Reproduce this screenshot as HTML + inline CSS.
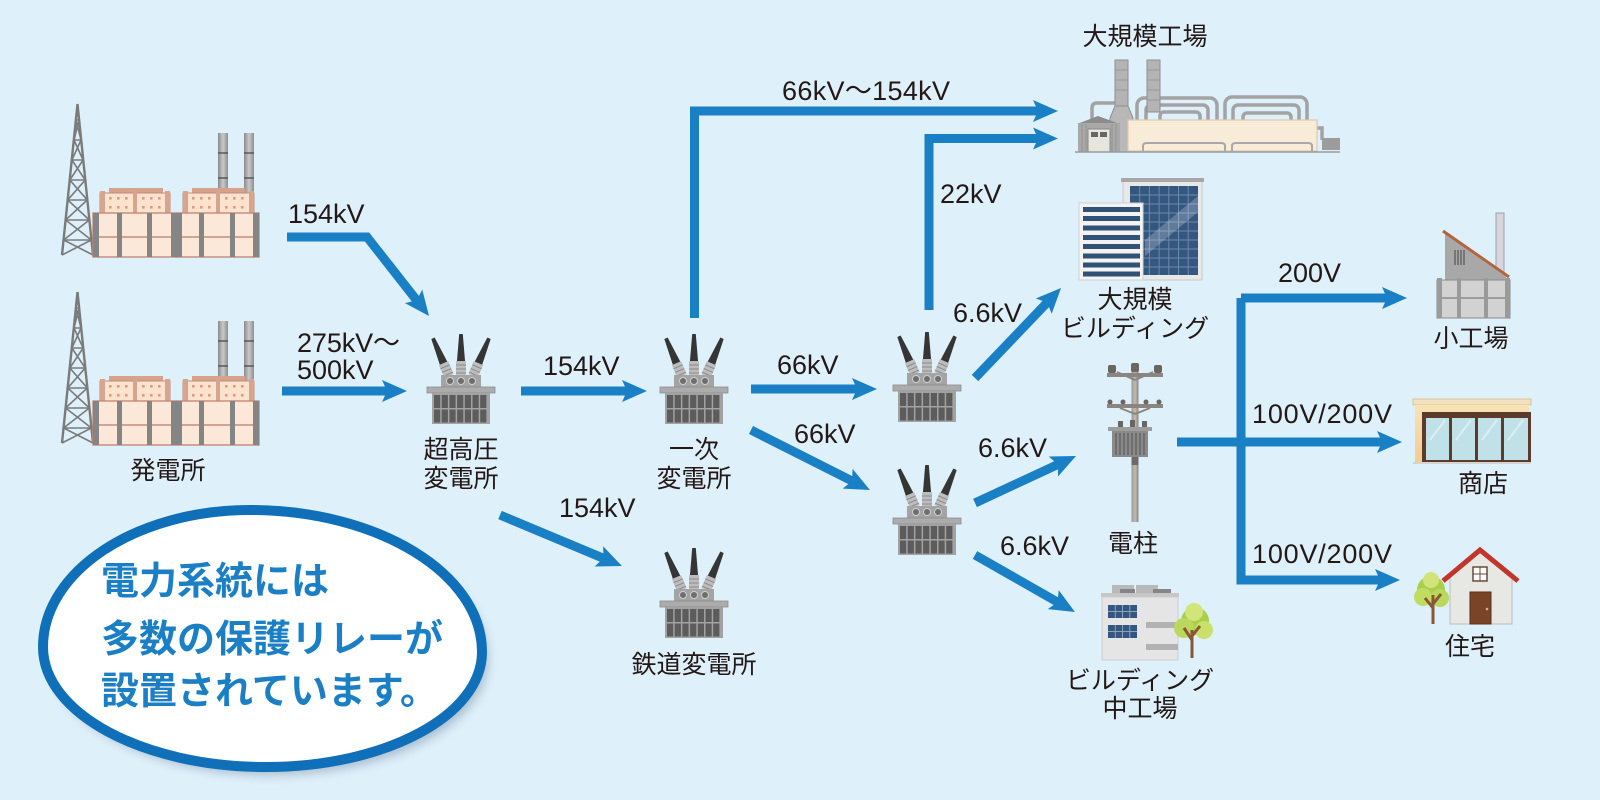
<!DOCTYPE html>
<html><head><meta charset="utf-8"><style>
html,body{margin:0;padding:0;background:#def0fa;}
svg{display:block;}
.kv{font-family:"Liberation Sans","Noto Sans CJK JP",sans-serif;font-size:27px;fill:#231815;}
.jp{font-family:"Liberation Sans","Noto Sans CJK JP",sans-serif;font-size:25px;fill:#231815;text-anchor:middle;}
.big{font-family:"Liberation Sans","Noto Sans CJK JP",sans-serif;font-size:38px;font-weight:700;fill:#1b7fc5;}
.ar{fill:none;stroke:#1a80c6;stroke-width:9;stroke-linejoin:miter;marker-end:url(#ah);}
</style></head><body>
<svg width="1600" height="800" viewBox="0 0 1600 800" xmlns="http://www.w3.org/2000/svg">
<defs>
<marker id="ah" markerUnits="userSpaceOnUse" markerWidth="26" markerHeight="24" viewBox="0 0 26 24" refX="5" refY="12" orient="auto"><path d="M0,1 L25,12 L0,23 L5,12 z" fill="#1a80c6"/></marker>
<linearGradient id="stk" x1="0" x2="1"><stop offset="0" stop-color="#8a8a8a"/><stop offset="0.5" stop-color="#c9c9c9"/><stop offset="1" stop-color="#8f8f8f"/></linearGradient>
<linearGradient id="pole" x1="0" x2="1"><stop offset="0" stop-color="#9a948e"/><stop offset="0.5" stop-color="#c2bcb6"/><stop offset="1" stop-color="#8c8680"/></linearGradient>
<linearGradient id="shop" x1="0" y1="0" x2="0" y2="1"><stop offset="0" stop-color="#f7e3b8"/><stop offset="1" stop-color="#f2cd8e"/></linearGradient>
<filter id="blur" x="-20%" y="-20%" width="140%" height="140%"><feGaussianBlur stdDeviation="5"/></filter>
<g id="bush">
  <path d="M-4.2,-12 L-1.8,-41 L1.8,-41 L4.2,-12 z" fill="#353535"/>
  <rect x="-5" y="-14" width="10" height="14" fill="#bdbdbd"/>
  <path d="M-5,-10 H5 M-5,-6 H5 M-5,-2 H5" stroke="#8a8a8a" stroke-width="1"/>
</g>
<g id="tr">
  <use href="#bush" transform="translate(-12,-11) rotate(-23)"/>
  <use href="#bush" transform="translate(12,-11) rotate(23)"/>
  <use href="#bush" transform="translate(0,-12)"/>
  <rect x="-20" y="-12" width="40" height="12" fill="#a4a4a4"/>
  <circle cx="-11" cy="-6" r="3.5" fill="#6e6e6e" stroke="#cfcfcf" stroke-width="1"/>
  <circle cx="0" cy="-6" r="3.5" fill="#6e6e6e" stroke="#cfcfcf" stroke-width="1"/>
  <circle cx="11" cy="-6" r="3.5" fill="#6e6e6e" stroke="#cfcfcf" stroke-width="1"/>
  <rect x="-34" y="0" width="68" height="6" fill="#acacac" stroke="#8c8c8c" stroke-width="0.8"/>
  <rect x="-29" y="6" width="58" height="31" fill="#a2a2a2"/>
  <g fill="#5c5c5c">
    <rect x="-27" y="8" width="6.2" height="13"/><rect x="-19.3" y="8" width="6.2" height="13"/><rect x="-11.6" y="8" width="6.2" height="13"/><rect x="-3.9" y="8" width="6.2" height="13"/><rect x="3.8" y="8" width="6.2" height="13"/><rect x="11.5" y="8" width="6.2" height="13"/><rect x="19.2" y="8" width="6.2" height="13"/>
    <rect x="-27" y="22.5" width="6.2" height="13"/><rect x="-19.3" y="22.5" width="6.2" height="13"/><rect x="-11.6" y="22.5" width="6.2" height="13"/><rect x="-3.9" y="22.5" width="6.2" height="13"/><rect x="3.8" y="22.5" width="6.2" height="13"/><rect x="11.5" y="22.5" width="6.2" height="13"/><rect x="19.2" y="22.5" width="6.2" height="13"/>
  </g>
</g>
<g id="plant">
  <g stroke="#7a7a7a" stroke-width="1.6" fill="none">
    <path d="M77.5,104 L62,255 M77.5,104 L93,255" stroke-width="2.4"/>
    <path d="M76,120 L81,140 L71.9,160 L85.2,180 L67.7,200 L89.4,220 L63.6,240 L93,255"/>
    <path d="M79,120 L74,140 L83.1,160 L69.8,180 L87.3,200 L65.6,220 L91.4,240 L62,255"/>
    <path d="M76,120 H79 M74,140 H81 M71.9,160 H83.1 M69.8,180 H85.2 M67.7,200 H87.3 M65.6,220 H89.4 M63.6,240 H91.4"/>
  </g>
  <rect x="218" y="133" width="10" height="62" fill="url(#stk)"/>
  <rect x="244" y="133" width="10" height="62" fill="url(#stk)"/>
  <path d="M218,153 H228 M218,178 H228 M244,153 H254 M244,178 H254" stroke="#4a4a4a" stroke-width="1.2"/>
  <rect x="109" y="188" width="54" height="6" fill="#d6a28c"/>
  <rect x="192" y="188" width="53" height="6" fill="#d6a28c"/>
  <rect x="100" y="193" width="70" height="21" fill="#fbe3cf" stroke="#c58b78" stroke-width="1"/>
  <rect x="183" y="193" width="71" height="21" fill="#fbe3cf" stroke="#c58b78" stroke-width="1"/>
  <g fill="#d7a48f"><rect x="100" y="191" width="5" height="23"/><rect x="165" y="191" width="5" height="23"/><rect x="133" y="191" width="4" height="23"/><rect x="183" y="191" width="5" height="23"/><rect x="249" y="191" width="5" height="23"/><rect x="216" y="191" width="4" height="23"/></g>
  <g fill="#e49a7a">
    <rect x="109" y="197" width="2.6" height="2.6"/><rect x="117" y="197" width="2.6" height="2.6"/><rect x="125" y="197" width="2.6" height="2.6"/><rect x="142" y="197" width="2.6" height="2.6"/><rect x="150" y="197" width="2.6" height="2.6"/><rect x="158" y="197" width="2.6" height="2.6"/>
    <rect x="109" y="206" width="2.6" height="2.6"/><rect x="117" y="206" width="2.6" height="2.6"/><rect x="125" y="206" width="2.6" height="2.6"/><rect x="142" y="206" width="2.6" height="2.6"/><rect x="150" y="206" width="2.6" height="2.6"/><rect x="158" y="206" width="2.6" height="2.6"/>
    <rect x="192" y="197" width="2.6" height="2.6"/><rect x="200" y="197" width="2.6" height="2.6"/><rect x="208" y="197" width="2.6" height="2.6"/><rect x="225" y="197" width="2.6" height="2.6"/><rect x="233" y="197" width="2.6" height="2.6"/><rect x="241" y="197" width="2.6" height="2.6"/>
    <rect x="192" y="206" width="2.6" height="2.6"/><rect x="200" y="206" width="2.6" height="2.6"/><rect x="208" y="206" width="2.6" height="2.6"/><rect x="225" y="206" width="2.6" height="2.6"/><rect x="233" y="206" width="2.6" height="2.6"/><rect x="241" y="206" width="2.6" height="2.6"/>
  </g>
  <rect x="93" y="213" width="84" height="44" fill="#fce8d8" stroke="#c58b78" stroke-width="1.4"/>
  <rect x="177" y="213" width="82" height="44" fill="#fce8d8" stroke="#c58b78" stroke-width="1.4"/>
  <path d="M93,237 H259" stroke="#c58b78" stroke-width="1.5"/>
  <g fill="#858585"><rect x="93" y="213" width="6" height="44"/><rect x="117" y="213" width="5" height="44"/><rect x="147" y="213" width="5" height="44"/><rect x="171" y="213" width="6" height="44"/><rect x="177" y="213" width="5" height="44"/><rect x="199" y="213" width="5" height="44"/><rect x="230" y="213" width="5" height="44"/><rect x="253" y="213" width="6" height="44"/></g>
</g>
</defs>

<rect width="1600" height="800" fill="#def0fa"/>

<!-- power plants -->
<use href="#plant"/>
<use href="#plant" y="188"/>

<!-- transformers -->
<use href="#tr" x="461" y="387"/>
<use href="#tr" x="694" y="387"/>
<use href="#tr" x="927" y="385"/>
<use href="#tr" x="927" y="518"/>
<use href="#tr" x="694" y="601"/>

<!-- arrows -->
<path class="ar" d="M287,237 H367 L416.7,300.3"/>
<path class="ar" d="M282,391 H387"/>
<path class="ar" d="M521,391 H627"/>
<path class="ar" d="M694.5,318 V111 H1038"/>
<path class="ar" d="M929,310 V138.5 H1038"/>
<path class="ar" d="M500,515 L603.5,558.3"/>
<path class="ar" d="M751,389 H857"/>
<path class="ar" d="M751,430 L852.1,481"/>
<path class="ar" d="M975,378 L1047.2,302.5"/>
<path class="ar" d="M975,503 L1057.9,464.4"/>
<path class="ar" d="M975,555 L1057.6,602.1"/>
<path class="ar" d="M1177,442 H1382"/>
<path class="ar" d="M1241,298 V580 H1380"/>
<path class="ar" d="M1241,298 H1387"/>

<!-- big factory -->
<g fill="none" stroke="#a3a3a3" stroke-width="3.5">
  <rect x="1137" y="98" width="80" height="34" rx="7"/>
  <rect x="1146" y="105" width="62" height="28" rx="5"/>
  <rect x="1225" y="97" width="82" height="35" rx="7"/>
  <rect x="1233" y="105" width="66" height="28" rx="5"/>
  <rect x="1160" y="112" width="40" height="20" rx="4"/>
  <rect x="1243" y="113" width="48" height="20" rx="4"/>
  <path d="M1092,125 V108 Q1092,103 1097,103 H1115"/>
  <path d="M1317,128 H1322 V140"/>
</g>
<rect x="1115" y="60" width="13" height="46" fill="#b4b4b4" stroke="#8e8e8e" stroke-width="1"/>
<path d="M1115,106 L1110,118 V152 H1133 V118 L1128,106 z" fill="#b8b8b8" stroke="#8e8e8e" stroke-width="1"/>
<rect x="1147" y="60" width="13" height="52" fill="#b4b4b4" stroke="#8e8e8e" stroke-width="1"/>
<path d="M1115,70 H1128 M1115,80 H1128 M1115,90 H1128 M1147,70 H1160 M1147,80 H1160 M1147,90 H1160 M1147,100 H1160" stroke="#999" stroke-width="1"/>
<rect x="1128" y="120" width="189" height="31" fill="#f8ebd8" stroke="#dccbb2" stroke-width="1.2"/>
<path d="M1143,151 V146 Q1143,143 1147,143 H1221 Q1225,143 1225,146 V151 M1232,151 V146 Q1232,143 1236,143 H1308 Q1312,143 1312,146 V151" fill="none" stroke="#a8a8a8" stroke-width="2"/>
<rect x="1322" y="138" width="18" height="12" fill="#9c9c9c"/>
<path d="M1077,124 L1098,116 L1120,124 z" fill="#8c8c8c"/>
<rect x="1078" y="123" width="42" height="29" fill="#a9a9a9"/>
<path d="M1082,124 V152 M1086,124 V152 M1112,124 V152 M1116,124 V152" stroke="#939393" stroke-width="1"/>
<rect x="1088" y="129" width="22" height="23" fill="#e6e6de" stroke="#888" stroke-width="1"/>
<rect x="1091" y="132" width="7" height="5" fill="#666"/><rect x="1100" y="132" width="7" height="5" fill="#666"/>
<path d="M1075,152 H1340" stroke="#9a9a9a" stroke-width="1.5"/>

<!-- large building -->
<rect x="1123" y="180" width="79" height="100" fill="#e8e8e8" stroke="#c9c9c9" stroke-width="1"/>
<rect x="1121" y="178" width="83" height="4" fill="#a7a7a7"/>
<rect x="1130" y="186" width="68" height="89" fill="#34577f"/>
<path d="M1130,195 H1198 M1130,204 H1198 M1130,213 H1198 M1130,222 H1198 M1130,231 H1198 M1130,240 H1198 M1130,249 H1198 M1130,258 H1198 M1130,267 H1198 M1139.7,186 V275 M1149.4,186 V275 M1159.1,186 V275 M1168.8,186 V275 M1178.5,186 V275 M1188.2,186 V275" stroke="#6d89ab" stroke-width="1"/>
<path d="M1145,240 L1198,196 V212 L1145,256 z" fill="#ffffff" opacity="0.22"/>
<rect x="1079" y="203" width="64" height="77" fill="#f3f3f3" stroke="#d0d0d0" stroke-width="1"/>
<g fill="#2f5276"><rect x="1083" y="207" width="57" height="5"/><rect x="1083" y="216" width="57" height="5"/><rect x="1083" y="225.5" width="57" height="5"/><rect x="1083" y="235" width="57" height="5"/><rect x="1083" y="244" width="57" height="5"/><rect x="1083" y="253.5" width="57" height="5"/><rect x="1083" y="262.5" width="57" height="5"/><rect x="1083" y="271.5" width="57" height="5"/></g>

<!-- utility pole -->
<rect x="1131.5" y="368" width="7" height="154" fill="url(#pole)"/>
<path d="M1135,380 L1117,372 M1135,380 L1153,372" stroke="#8b857f" stroke-width="2"/>
<rect x="1107" y="373" width="56" height="4" fill="#8b857f"/>
<g fill="#6a6562"><rect x="1108" y="365" width="8" height="8" rx="2"/><rect x="1131" y="363" width="8" height="9" rx="2"/><rect x="1154" y="365" width="8" height="8" rx="2"/></g>
<rect x="1107" y="404" width="56" height="4" fill="#8b857f"/>
<path d="M1135,414 L1120,408 M1135,414 L1150,408" stroke="#8b857f" stroke-width="2"/>
<g fill="#6a6562"><circle cx="1110" cy="402" r="2.5"/><circle cx="1123" cy="402" r="2.5"/><circle cx="1146" cy="402" r="2.5"/><circle cx="1159" cy="402" r="2.5"/></g>
<g fill="#6a6562"><rect x="1118" y="421" width="5" height="6"/><rect x="1130" y="420" width="5" height="7"/><rect x="1142" y="421" width="5" height="6"/></g>
<rect x="1108" y="427" width="44" height="4" fill="#9d9d9d"/>
<rect x="1112" y="431" width="36" height="26" fill="#8a8a8a"/>
<path d="M1116,433 V455 M1120,433 V455 M1124,433 V455 M1128,433 V455 M1132,433 V455 M1136,433 V455 M1140,433 V455 M1144,433 V455" stroke="#666" stroke-width="1.5"/>
<rect x="1131.5" y="457" width="7" height="8" fill="#6f6a66"/>

<!-- medium factory building -->
<rect x="1112" y="585" width="22" height="9" fill="#b9b9b9"/><rect x="1136" y="585" width="22" height="9" fill="#b9b9b9"/>
<rect x="1120" y="589" width="15" height="5" fill="#858585"/><rect x="1153" y="589" width="18" height="5" fill="#858585"/>
<rect x="1101" y="593" width="78" height="4" fill="#c6c6c6"/>
<rect x="1102" y="597" width="76" height="63" fill="#e5e5e5" stroke="#cdcdcd" stroke-width="1"/>
<rect x="1108" y="605" width="29" height="13" fill="#34577f"/>
<rect x="1108" y="625" width="29" height="13" fill="#34577f"/>
<path d="M1108,611.5 H1137 M1115.3,605 V618 M1122.5,605 V618 M1129.8,605 V618 M1108,631.5 H1137 M1115.3,625 V638 M1122.5,625 V638 M1129.8,625 V638" stroke="#8aa2bf" stroke-width="1"/>
<rect x="1146" y="622" width="32" height="6" fill="#b2b2b2"/><rect x="1146" y="644" width="32" height="6" fill="#b2b2b2"/>
<circle cx="1195" cy="621" r="14" fill="#a9cf4a"/><circle cx="1184" cy="628" r="10" fill="#b9d85c"/><circle cx="1204" cy="630" r="9" fill="#c9e06a"/><circle cx="1194" cy="612" r="9" fill="#d2e579"/>
<path d="M1192,658 V630 M1192,640 L1184,628 M1192,636 L1200,626" stroke="#8b5637" stroke-width="3" fill="none"/>

<!-- small factory -->
<rect x="1496" y="213" width="8" height="64" fill="#d6d6dc" stroke="#a0a0a8" stroke-width="1"/>
<path d="M1445,234 L1506,277 V285 H1445 z" fill="#a8a8a8"/>
<path d="M1443,231 L1509,277" stroke="#b0653c" stroke-width="3"/>
<path d="M1455,250 V265 M1458,250 V265 M1461,250 V265 M1464,250 V265" stroke="#666" stroke-width="1.5"/>
<rect x="1437" y="280" width="73" height="38" fill="#d2d2d2" stroke="#8a8a8a" stroke-width="1"/>
<path d="M1437,298 H1510" stroke="#8a8a8a" stroke-width="1.5"/>
<g fill="#9a9a9a"><rect x="1437" y="278" width="5" height="40"/><rect x="1457" y="278" width="4" height="40"/><rect x="1484" y="278" width="4" height="40"/><rect x="1505" y="278" width="5" height="40"/></g>

<!-- shop -->
<rect x="1413" y="399" width="118" height="6" fill="#f2e1bd" stroke="#dcc496" stroke-width="1"/>
<rect x="1415" y="405" width="114" height="57" fill="url(#shop)"/>
<rect x="1422" y="412" width="109" height="51" fill="#5d3b2a"/>
<g fill="#bfe1e7"><rect x="1426" y="418" width="23" height="42"/><rect x="1452" y="418" width="23" height="42"/><rect x="1478" y="418" width="23" height="42"/><rect x="1504" y="418" width="24" height="42"/></g>
<path d="M1430,440 L1445,420 M1456,440 L1471,420 M1482,440 L1497,420 M1508,440 L1523,420" stroke="#e6f5f7" stroke-width="2" opacity="0.7"/>
<path d="M1413,463 H1531" stroke="#d4d4d4" stroke-width="2"/>

<!-- house -->
<circle cx="1431" cy="590" r="14" fill="#aacf4c"/><circle cx="1423" cy="597" r="9" fill="#c2dc62"/><circle cx="1440" cy="598" r="9" fill="#b9d85c"/><circle cx="1431" cy="580" r="8" fill="#d0e47a"/>
<path d="M1433,624 V595 M1433,608 L1425,598 M1433,604 L1441,594" stroke="#8b5637" stroke-width="3" fill="none"/>
<path d="M1450,575 L1480,550 L1512,575 V624 H1450 z" fill="#e7e7e3" stroke="#bcbcbc" stroke-width="1"/>
<path d="M1443,581 L1480,550 L1518,581" fill="none" stroke="#c1352b" stroke-width="5"/>
<rect x="1473" y="567" width="14" height="14" fill="#fff" stroke="#6b4a3a" stroke-width="1.5"/>
<path d="M1480,567 V581 M1473,574 H1487" stroke="#6b4a3a" stroke-width="1"/>
<rect x="1470" y="592" width="21" height="32" fill="#7a4428" stroke="#5a2f1a" stroke-width="1"/>
<circle cx="1487" cy="609" r="1.3" fill="#e0b070"/>

<!-- ellipse callout -->
<path d="M43,647 C43,571.3 135.7,510 250,510 C378.1,510 482,573.6 482,652 C482,715.5 385.3,767 266,767 C142.8,767 43,713.3 43,647 z" transform="translate(6,8)" fill="#7c93a8" opacity="0.55" filter="url(#blur)"/>
<path d="M43,647 C43,571.3 135.7,510 250,510 C378.1,510 482,573.6 482,652 C482,715.5 385.3,767 266,767 C142.8,767 43,713.3 43,647 z" fill="#ffffff" stroke="#0f6fb9" stroke-width="10"/>
<text class="big" x="101" y="594">電力系統には</text>
<text class="big" x="101" y="652">多数の保護リレーが</text>
<text class="big" x="101" y="704">設置されています。</text>

<!-- kV labels -->
<text class="kv" x="288" y="223">154kV</text>
<text class="kv" x="297" y="352" textLength="103">275kV～</text>
<text class="kv" x="297" y="379">500kV</text>
<text class="kv" x="543" y="375">154kV</text>
<text class="kv" x="782" y="100" textLength="168">66kV～154kV</text>
<text class="kv" x="940" y="203">22kV</text>
<text class="kv" x="953" y="322">6.6kV</text>
<text class="kv" x="777" y="374">66kV</text>
<text class="kv" x="794" y="443">66kV</text>
<text class="kv" x="559" y="517">154kV</text>
<text class="kv" x="978" y="457">6.6kV</text>
<text class="kv" x="1000" y="555">6.6kV</text>
<text class="kv" x="1278" y="282">200V</text>
<text class="kv" x="1252" y="423" textLength="140">100V/200V</text>
<text class="kv" x="1252" y="563" textLength="140">100V/200V</text>

<!-- node labels -->
<text class="jp" x="168" y="479">発電所</text>
<text class="jp" x="461" y="458">超高圧</text>
<text class="jp" x="461" y="487">変電所</text>
<text class="jp" x="694" y="458">一次</text>
<text class="jp" x="694" y="487">変電所</text>
<text class="jp" x="694" y="673">鉄道変電所</text>
<text class="jp" x="1145" y="45">大規模工場</text>
<text class="jp" x="1135" y="308">大規模</text>
<text class="jp" x="1135" y="337">ビルディング</text>
<text class="jp" x="1133" y="552">電柱</text>
<text class="jp" x="1140" y="689">ビルディング</text>
<text class="jp" x="1140" y="717">中工場</text>
<text class="jp" x="1471" y="347">小工場</text>
<text class="jp" x="1483" y="492">商店</text>
<text class="jp" x="1470" y="655">住宅</text>
</svg>
</body></html>
